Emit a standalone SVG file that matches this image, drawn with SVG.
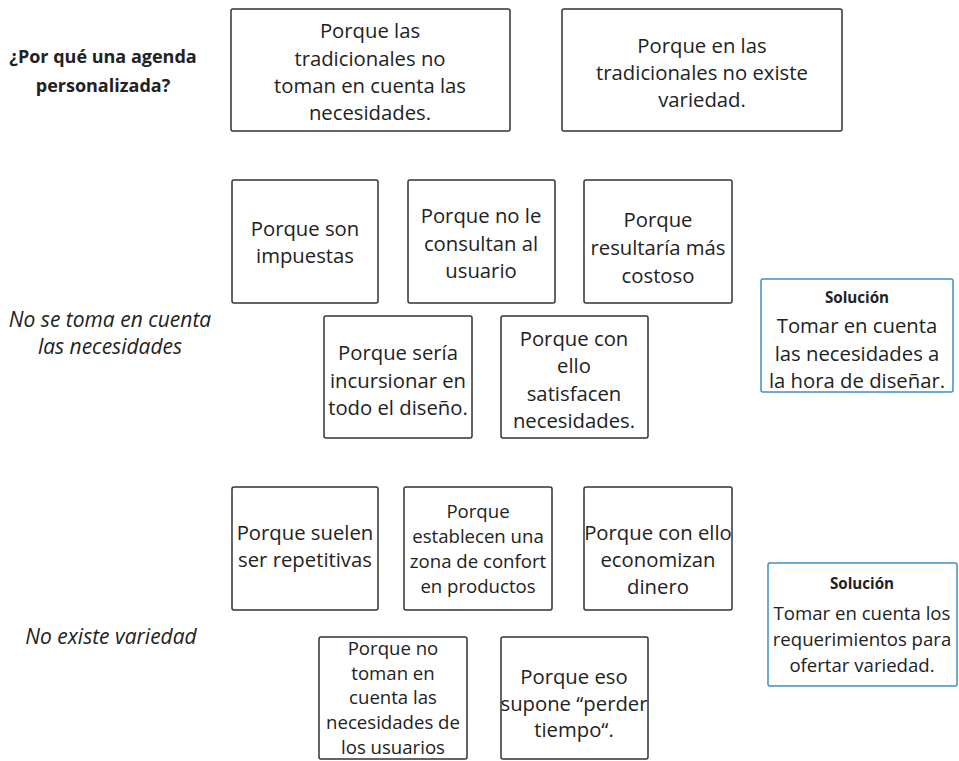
<svg xmlns="http://www.w3.org/2000/svg" width="959" height="761" viewBox="0 0 959 761">
<style>
.box{fill:#fff;stroke:#333;stroke-width:1.5}
.sol{fill:#fff;stroke:#3f8fc9;stroke-width:1.5}
text{font-family:"Open Sans","Liberation Sans",sans-serif;fill:#222;text-anchor:middle}
.t{font-size:20.3px}
.s{font-size:18.6px}
.h{font-size:18px;font-weight:bold}
.i{font-size:21px;font-style:italic}
.b{font-size:15.2px;font-weight:bold}
</style>
<rect width="959" height="761" fill="#fff"/>
<g id="title"><text class="h" x="103" y="63">¿Por qué una agenda</text><text class="h" x="103" y="92">personalizada?</text></g>
<g id="label1"><text class="i" x="110" y="327">No se toma en cuenta</text><text class="i" x="110" y="354">las necesidades</text></g>
<g id="label2"><text class="i" x="111" y="644">No existe variedad</text></g>
<g id="n1"><rect class="box" x="231" y="9" width="279" height="122" rx="2"/>
<text class="t" x="370" y="38">Porque las</text><text class="t" x="370" y="66">tradicionales no</text><text class="t" x="370" y="93">toman en cuenta las</text><text class="t" x="370" y="120">necesidades.</text></g>
<g id="n2"><rect class="box" x="562" y="9" width="280" height="122" rx="2"/>
<text class="t" x="702" y="53">Porque en las</text><text class="t" x="702" y="80">tradicionales no existe</text><text class="t" x="702" y="107">variedad.</text></g>
<g id="n3"><rect class="box" x="232" y="180" width="146" height="123" rx="2"/>
<text class="t" x="305" y="236">Porque son</text><text class="t" x="305" y="263">impuestas</text></g>
<g id="n4"><rect class="box" x="408" y="180" width="147" height="123" rx="2"/>
<text class="t" x="481" y="223">Porque no le</text><text class="t" x="481" y="251">consultan al</text><text class="t" x="481" y="278">usuario</text></g>
<g id="n5"><rect class="box" x="584" y="180" width="148" height="123" rx="2"/>
<text class="t" x="658" y="227">Porque</text><text class="t" x="658" y="255">resultaría más</text><text class="t" x="658" y="283">costoso</text></g>
<g id="n6"><rect class="box" x="324" y="316" width="148" height="122" rx="2"/>
<text class="t" x="398" y="360">Porque sería</text><text class="t" x="398" y="388">incursionar en</text><text class="t" x="398" y="415">todo el diseño.</text></g>
<g id="n7"><rect class="box" x="501" y="316" width="147" height="122" rx="2"/>
<text class="t" x="574" y="346">Porque con</text><text class="t" x="574" y="373">ello</text><text class="t" x="574" y="401">satisfacen</text><text class="t" x="574" y="428">necesidades.</text></g>
<g id="sol1"><rect class="sol" x="761" y="279" width="192" height="113" rx="2"/>
<text class="b" x="857" y="303">Solución</text><text class="t" x="857" y="333">Tomar en cuenta</text><text class="t" x="857" y="361">las necesidades a</text><text class="t" x="857" y="388">la hora de diseñar.</text></g>
<g id="n8"><rect class="box" x="232" y="487" width="146" height="123" rx="2"/>
<text class="t" x="305" y="540">Porque suelen</text><text class="t" x="305" y="567">ser repetitivas</text></g>
<g id="n9"><rect class="box" x="404" y="487" width="148" height="123" rx="2"/>
<text class="s" x="478" y="518">Porque</text><text class="s" x="478" y="543">establecen una</text><text class="s" x="478" y="568">zona de confort</text><text class="s" x="478" y="593">en productos</text></g>
<g id="n10"><rect class="box" x="584" y="487" width="148" height="123" rx="2"/>
<text class="t" x="658" y="540">Porque con ello</text><text class="t" x="658" y="567">economizan</text><text class="t" x="658" y="594">dinero</text></g>
<g id="n11"><rect class="box" x="319" y="637" width="148" height="122" rx="2"/>
<text class="s" x="393" y="655">Porque no</text><text class="s" x="393" y="680">toman en</text><text class="s" x="393" y="704">cuenta las</text><text class="s" x="393" y="729">necesidades de</text><text class="s" x="393" y="754">los usuarios</text></g>
<g id="n12"><rect class="box" x="501" y="637" width="147" height="122" rx="2"/>
<text class="t" x="574" y="684">Porque eso</text><text class="t" x="574" y="711">supone “perder</text><text class="t" x="574" y="737">tiempo“.</text></g>
<g id="sol2"><rect class="sol" x="768" y="563" width="189" height="123" rx="2"/>
<text class="b" x="862" y="589">Solución</text><text class="s" x="862" y="620">Tomar en cuenta los</text><text class="s" x="862" y="646">requerimientos para</text><text class="s" x="862" y="672">ofertar variedad.</text></g>
<g id="connectors"/>
</svg>
